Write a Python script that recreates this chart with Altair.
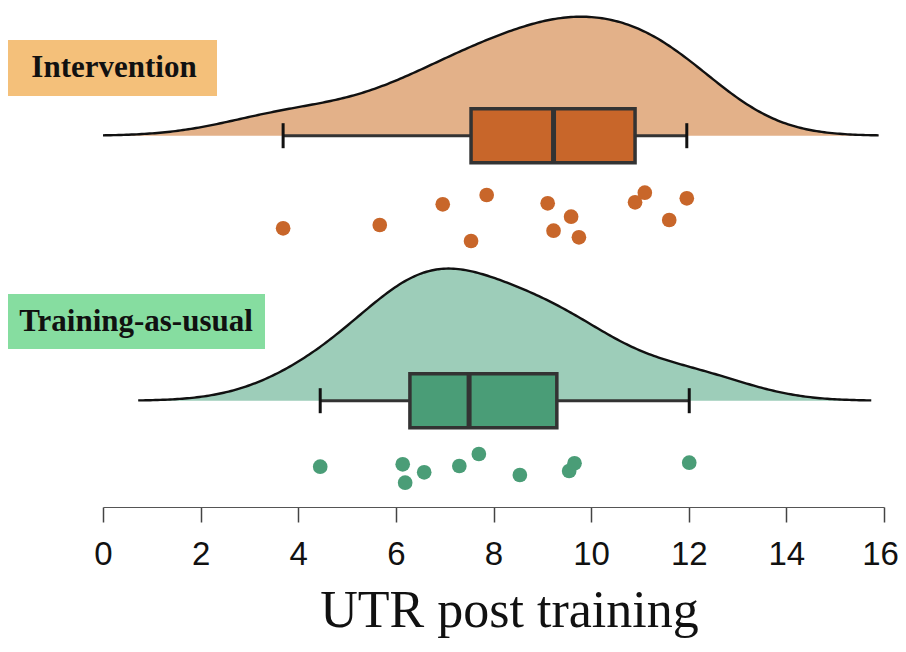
import altair as alt
import pandas as pd

# ---------------- data ----------------
groups = ["Intervention", "Training-as-usual"]

intervention_values = [3.69, 5.67, 6.96, 7.86, 7.54, 9.11, 9.23, 9.59, 9.75, 10.90, 11.10, 11.60, 11.96]
intervention_jitter = [92.6, 89.3, 68.6, 59.3, 105.3, 67.6, 95.0, 81.0, 101.6, 66.6, 57.0, 84.3, 62.6]

tau_values = [4.45, 6.14, 6.19, 6.58, 7.30, 7.70, 8.54, 9.55, 9.66, 12.01]
tau_jitter = [66.0, 63.6, 82.0, 71.6, 65.3, 53.3, 74.3, 70.3, 62.6, 62.0]

bandwidths = {"Intervention": 1.31, "Training-as-usual": 1.243}
x_ticks = [0, 2, 4, 6, 8, 10, 12, 14, 16]

# ---------------- styling / layout ----------------
box_colors = ["#C8662A", "#4A9D77"]
fill_colors = {"Intervention": "#E3B189", "Training-as-usual": "#9DCDB9"}
label_colors = {"Intervention": "#F4C07A", "Training-as-usual": "#86DDA0"}
BASE = {"Intervention": 127.7, "Training-as-usual": 392.7}
K = 795          # px per density unit
BOX_HALF = 27
CAP_HALF = 12.5
W, H = 781, 499

rows = []
for v, j in zip(intervention_values, intervention_jitter):
    rows.append({"group": "Intervention", "value": v, "jitter": j})
for v, j in zip(tau_values, tau_jitter):
    rows.append({"group": "Training-as-usual", "value": v, "jitter": j})
pts = pd.DataFrame(rows)

base_expr = f"datum.group === 'Intervention' ? {BASE['Intervention']} : {BASE['Training-as-usual']}"

axis = alt.Axis(
    values=x_ticks, grid=False, tickSize=15, tickWidth=1.5, tickColor="#444",
    domainColor="#555", domainWidth=1.2, labelFont="Liberation Sans", labelFontSize=33,
    labelColor="#111", labelBaseline="alphabetic", labelPadding=42, labelFlush=False,
    labelOffset={"condition": {"test": f"datum.value === {x_ticks[-1]}", "value": -4}, "value": 0},
    title="UTR post training", titleFont="Liberation Serif", titleFontSize=52,
    titleFontWeight="normal", titleColor="#111", titleBaseline="alphabetic",
    titleY=119, titleX=406, titleAnchor="middle", titleAlign="center",
)
xscale = alt.Scale(domain=[0, 16], nice=False, zero=False)
yscale = alt.Scale(domain=[0, H], reverse=True, nice=False, zero=False)


def X(f):
    return alt.X(f"{f}:Q", scale=xscale, axis=axis, title="UTR post training")


def Y(f):
    return alt.Y(f"{f}:Q", scale=yscale, axis=None)


color = alt.Color("group:N", scale=alt.Scale(domain=groups, range=box_colors), legend=None)

layers = []
# densities
for g in groups:
    vals = pts[pts.group == g].value
    bw = bandwidths[g]
    ext = [max(0.0, float(vals.min()) - 3 * bw), float(vals.max()) + 3 * bw]
    dens = (
        alt.Chart(pts)
        .transform_filter(alt.datum.group == g)
        .transform_density("value", bandwidth=bw, extent=ext, steps=300, as_=["value", "density"])
        .transform_calculate(top=f"{BASE[g]} - datum.density * {K}", bot=f"{BASE[g]}")
        .mark_area(fill=fill_colors[g], fillOpacity=1, line={"color": "#111", "strokeWidth": 2.4})
        .encode(x=X("value"), y=Y("top"), y2="bot")
    )
    layers.append(dens)

stats = (
    alt.Chart(pts)
    .transform_aggregate(
        q1="q1(value)", med="median(value)", q3="q3(value)", lo="min(value)", hi="max(value)",
        groupby=["group"],
    )
    .transform_calculate(
        base=base_expr,
        ytop=f"({base_expr}) - {BOX_HALF}",
        ybot=f"({base_expr}) + {BOX_HALF}",
        ctop=f"({base_expr}) - {CAP_HALF}",
        cbot=f"({base_expr}) + {CAP_HALF}",
    )
)

whisker = stats.mark_rule(color="#333", strokeWidth=3).encode(x=X("lo"), x2="hi", y=Y("base"))
cap_lo = stats.mark_rule(color="#111", strokeWidth=3).encode(x=X("lo"), y=Y("ctop"), y2="cbot")
cap_hi = stats.mark_rule(color="#111", strokeWidth=3).encode(x=X("hi"), y=Y("ctop"), y2="cbot")
box = stats.mark_rect(stroke="#333", strokeWidth=3.5, opacity=1).encode(
    x=X("q1"), x2="q3", y=Y("ytop"), y2="ybot", color=color
)
median = stats.mark_rule(color="#333", strokeWidth=5).encode(x=X("med"), y=Y("ytop"), y2="ybot")

points = (
    alt.Chart(pts)
    .transform_calculate(py=f"({base_expr}) + datum.jitter")
    .mark_circle(size=215, opacity=1)
    .encode(x=X("value"), y=Y("py"), color=color)
)

layers += [whisker, box, median, cap_lo, cap_hi, points]

# group label boxes (annotations)
lab_df = pd.DataFrame({"t": [0]})
label_geom = {
    "Intervention": dict(x=-95, x2=114, y=32, y2=88, tx=11, ty=60),
    "Training-as-usual": dict(x=-95, x2=162, y=286, y2=341, tx=33, ty=314),
}
for g in groups:
    gm = label_geom[g]
    layers.append(
        alt.Chart(lab_df).mark_rect(color=label_colors[g]).encode(
            x=alt.value(gm["x"]), x2=alt.value(gm["x2"]), y=alt.value(gm["y"]), y2=alt.value(gm["y2"])
        )
    )
    layers.append(
        alt.Chart(lab_df).mark_text(
            text=g, font="Liberation Serif", fontWeight="bold", fontSize=31, color="#111",
            align="center", baseline="middle",
        ).encode(x=alt.value(gm["tx"]), y=alt.value(gm["ty"]))
    )

chart = (
    alt.layer(*layers)
    .properties(
        width=W, height=H,
        autosize=alt.AutoSizeParams(type="none"),
        padding={"left": 95, "top": 0, "right": 14, "bottom": 131},
        background="white",
    )
    .configure_view(stroke=None)
)

chart.save("out.html", embed_options={"renderer": "svg", "actions": False})
